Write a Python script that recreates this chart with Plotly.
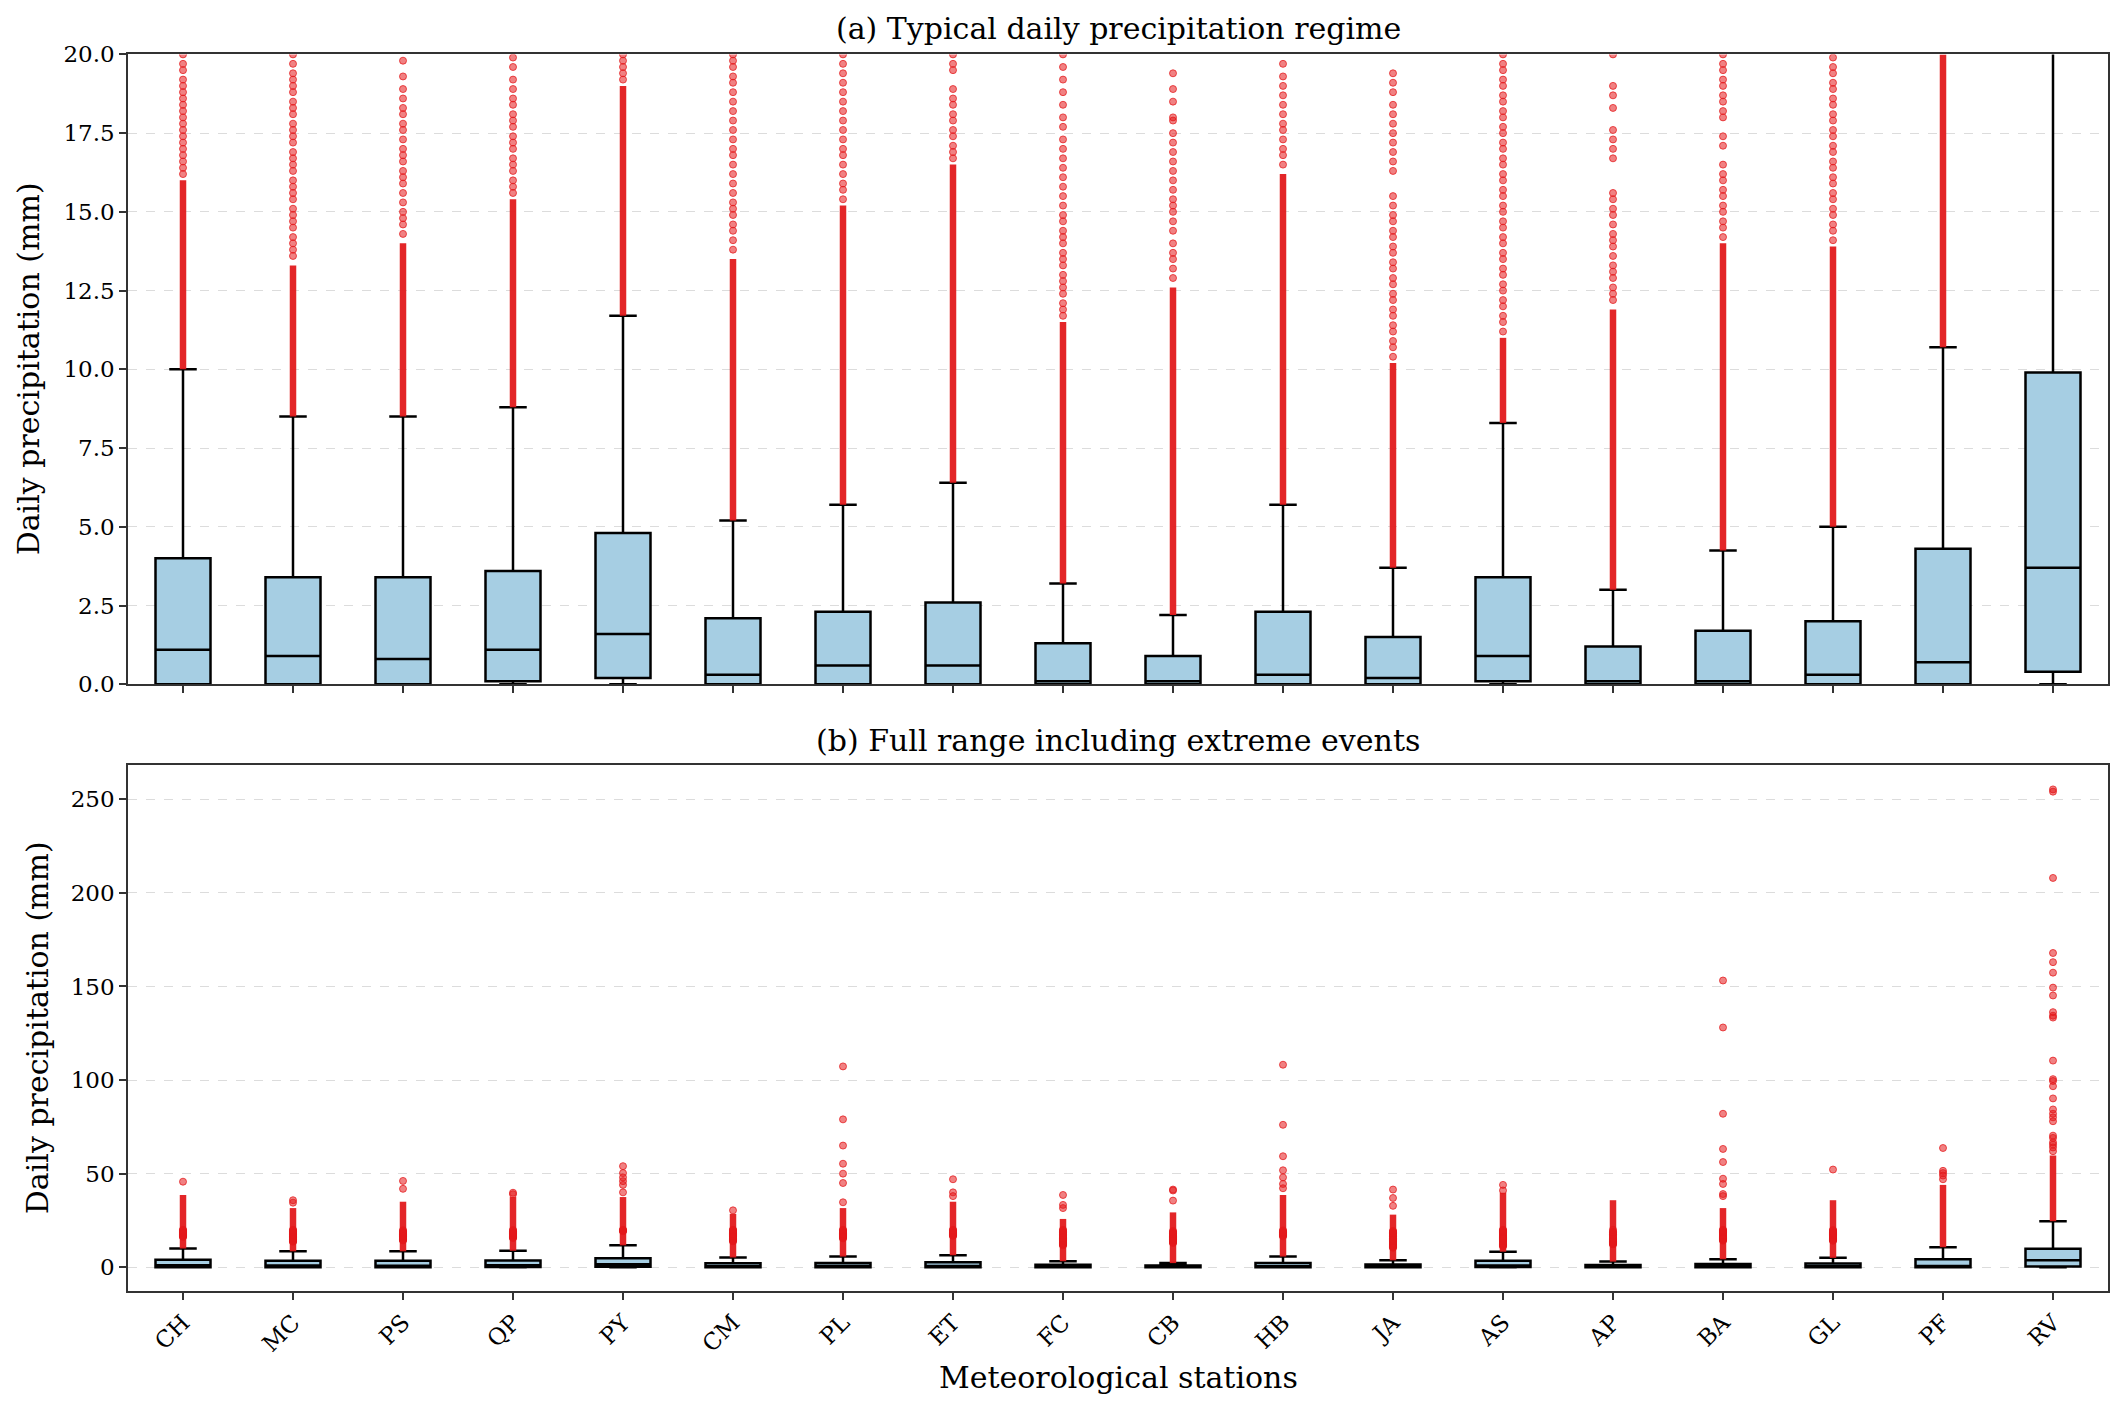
import plotly.graph_objects as go

# ---------------- data ----------------
stations = ["CH", "MC", "PS", "QP", "PY", "CM", "PL", "ET", "FC",
            "CB", "HB", "JA", "AS", "AP", "BA", "GL", "PF", "RV"]

q1 =            [0.0, 0.0, 0.0, 0.1, 0.2, 0.0, 0.0, 0.0, 0.0, 0.0, 0.0, 0.0, 0.1, 0.0, 0.0, 0.0, 0.0, 0.4]
median =        [1.1, 0.9, 0.8, 1.1, 1.6, 0.3, 0.6, 0.6, 0.1, 0.1, 0.3, 0.2, 0.9, 0.1, 0.1, 0.3, 0.7, 3.7]
q3 =            [4.0, 3.4, 3.4, 3.6, 4.8, 2.1, 2.3, 2.6, 1.3, 0.9, 2.3, 1.5, 3.4, 1.2, 1.7, 2.0, 4.3, 9.9]
lower_whisker = [0.0] * 18
upper_whisker = [10.0, 8.5, 8.5, 8.8, 11.7, 5.2, 5.7, 6.4, 3.2, 2.2, 5.7, 3.7, 8.3, 3.0, 4.25, 5.0, 10.7, 24.6]

# top of the unbroken run of outliers above the upper whisker,
# as seen in the 0-20 mm panel (fine) and in the full-range panel (coarse)
dense_top_fine =   [16.0, 13.3, 14.0, 15.4, 19.0, 13.5, 15.2, 16.5, 11.5, 12.6, 16.2, 10.2, 11.0, 11.9, 14.0, 13.9, 20.0, 24.6]
dense_top_coarse = [38.6, 31.6, 35.0, 37.5, 37.5, 28.5, 31.6, 35.0, 25.8, 29.3, 38.6, 28.1, 39.8, 35.8, 31.6, 35.8, 44.0, 59.7]

# individual outliers above the unbroken run
out_CH = [16.2, 16.4, 16.6, 16.8, 17.0, 17.2, 17.4, 17.6, 17.8, 18.0, 18.2, 18.4, 18.6, 18.8, 19.0, 19.2,
          19.5, 19.7, 20.0, 45.7]
out_MC = [13.6, 13.8, 14.0, 14.2, 14.5, 14.7, 14.9, 15.1, 15.4, 15.6, 15.8, 16.0, 16.3, 16.5, 16.7, 16.9,
          17.2, 17.4, 17.6, 17.8, 18.1, 18.3, 18.5, 18.8, 19.0, 19.2, 19.4, 19.7, 20.0, 34.5, 35.8]
out_PS = [14.3, 14.6, 14.8, 15.0, 15.3, 15.6, 15.9, 16.1, 16.3, 16.6, 16.8, 17.0, 17.3, 17.6, 17.8, 18.1,
          18.3, 18.6, 18.9, 19.3, 19.8, 41.9, 46.1]
out_QP = [15.6, 15.8, 16.0, 16.3, 16.5, 16.7, 17.0, 17.2, 17.4, 17.7, 17.9, 18.1, 18.4, 18.6, 18.9, 19.2,
          19.6, 19.9, 39.0, 39.8]
out_PY = [19.2, 19.4, 19.6, 19.8, 20.0, 40.0, 44.0, 46.0, 48.0, 50.3, 54.0]
out_CM = [13.8, 14.1, 14.4, 14.6, 14.9, 15.1, 15.3, 15.6, 15.9, 16.2, 16.5, 16.8, 17.0, 17.3, 17.6, 17.9,
          18.2, 18.5, 18.8, 19.1, 19.3, 19.6, 19.8, 20.0, 30.4]
out_PL = [15.4, 15.7, 15.9, 16.2, 16.5, 16.8, 17.0, 17.3, 17.6, 17.9, 18.2, 18.5, 18.8, 19.1, 19.4, 19.7,
          20.0, 34.7, 45.0, 50.0, 55.3, 65.0, 79.0, 107.3]
out_ET = [16.7, 16.9, 17.1, 17.4, 17.6, 17.9, 18.1, 18.4, 18.6, 18.9, 19.5, 19.7, 20.0, 38.0, 40.0, 47.0]
out_FC = [11.7, 11.9, 12.1, 12.4, 12.6, 12.8, 13.0, 13.3, 13.5, 13.7, 14.0, 14.2, 14.4, 14.7, 14.9, 15.2,
          15.5, 15.8, 16.1, 16.4, 16.7, 17.0, 17.3, 17.7, 18.0, 18.4, 18.8, 19.2, 19.6, 20.0, 31.6, 33.3, 38.6]
out_CB = [12.9, 13.2, 13.5, 13.7, 14.0, 14.4, 14.7, 15.0, 15.2, 15.4, 15.7, 16.0, 16.3, 16.6, 16.9, 17.2,
          17.5, 17.9, 18.0, 18.5, 18.9, 19.4, 35.6, 41.0, 41.5]
out_HB = [16.5, 16.8, 17.0, 17.3, 17.6, 17.8, 18.1, 18.4, 18.7, 19.0, 19.3, 19.7,
          42.2, 44.5, 48.0, 51.8, 59.3, 76.1, 108.2]
out_JA = [10.4, 10.7, 10.9, 11.2, 11.4, 11.7, 11.9, 12.2, 12.4, 12.7, 12.9, 13.2, 13.4, 13.7, 13.9, 14.2,
          14.4, 14.7, 14.9, 15.2, 15.5, 16.3, 16.6, 16.9, 17.2, 17.5, 17.8, 18.1, 18.4, 18.8, 19.1, 19.4,
          32.8, 37.0, 41.5]
out_AS = [11.2, 11.5, 11.7, 12.0, 12.2, 12.5, 12.7, 13.0, 13.2, 13.5, 13.7, 14.0, 14.2, 14.5, 14.7, 15.0,
          15.2, 15.5, 15.7, 16.0, 16.2, 16.5, 16.7, 17.0, 17.2, 17.5, 17.7, 18.0, 18.2, 18.5, 18.7, 19.0,
          19.2, 19.5, 19.7, 20.0, 41.0, 44.0]
out_AP = [12.2, 12.4, 12.6, 12.9, 13.1, 13.3, 13.6, 13.9, 14.1, 14.3, 14.6, 14.9, 15.1, 15.4, 15.6, 16.7,
          17.0, 17.3, 17.6, 18.3, 18.7, 19.0, 20.0]
out_BA = [14.2, 14.5, 14.7, 15.0, 15.2, 15.5, 15.7, 16.0, 16.2, 16.5, 17.1, 17.4, 18.0, 18.2, 18.5, 18.7,
          19.0, 19.2, 19.5, 19.7, 20.0, 38.0, 39.1, 44.5, 47.3, 56.2, 63.2, 82.0, 128.1, 153.2]
out_GL = [14.1, 14.4, 14.6, 14.9, 15.1, 15.4, 15.6, 15.9, 16.1, 16.4, 16.6, 16.9, 17.1, 17.4, 17.6, 17.9,
          18.1, 18.4, 18.6, 18.9, 19.1, 19.4, 19.6, 19.9, 52.2]
out_PF = [47.0, 49.0, 50.3, 51.5, 63.7]
out_RV = [62.0, 64.0, 65.5, 66.7, 69.1, 70.3, 78.0, 80.1, 82.0, 84.3, 90.2, 96.7, 99.5, 100.5, 110.4,
          133.4, 134.4, 136.3, 145.2, 149.4, 157.4, 163.0, 167.9, 208.0, 254.1, 255.3]

outliers = [out_CH, out_MC, out_PS, out_QP, out_PY, out_CM, out_PL, out_ET, out_FC,
            out_CB, out_HB, out_JA, out_AS, out_AP, out_BA, out_GL, out_PF, out_RV]

top_ticks = [0.0, 2.5, 5.0, 7.5, 10.0, 12.5, 15.0, 17.5, 20.0]
bottom_ticks = [0, 50, 100, 150, 200, 250]

# ---------------- styling / layout ----------------
W, H = 2123, 1408
FONT = "DejaVu Serif"
BOX_FILL = "#A6CEE3"
RED_SOLID = "rgba(226,26,28,0.95)"
RED_DOT = "rgba(228,26,28,0.55)"
RED_EDGE = "rgba(228,26,28,0.75)"


def py(px):
    """vertical pixel position (from top) -> paper fraction, with a small
    empirical correction for how the page is captured"""
    y = (px - 11.6) / 0.9817
    return 1 - y / H


x_left, x_right = 128 / W, 2108 / W
top_dom = [py(683), py(53)]
bot_dom = [py(1290), py(764)]

fig = go.Figure()

panels = [("x", "y", dense_top_fine), ("x2", "y2", dense_top_coarse)]
for xa, ya, dense_top in panels:
    # unbroken run of outliers
    sx, sy = [], []
    for s, lo, hi in zip(stations, upper_whisker, dense_top):
        if hi > lo:
            sx += [s, s, None]
            sy += [lo, hi, None]
    fig.add_trace(go.Scatter(x=sx, y=sy, mode="lines", xaxis=xa, yaxis=ya,
                             line=dict(color=RED_SOLID, width=6.5),
                             hoverinfo="skip", showlegend=False))
    # individual outliers
    ox, oy = [], []
    for s, vals in zip(stations, outliers):
        ox += [s] * len(vals)
        oy += vals
    fig.add_trace(go.Scatter(x=ox, y=oy, mode="markers", xaxis=xa, yaxis=ya,
                             marker=dict(size=7, color=RED_DOT,
                                         line=dict(color=RED_EDGE, width=1)),
                             showlegend=False))
    # boxes
    fig.add_trace(go.Box(x=stations, q1=q1, median=median, q3=q3,
                         lowerfence=lower_whisker, upperfence=upper_whisker,
                         xaxis=xa, yaxis=ya, boxpoints=False,
                         fillcolor=BOX_FILL, line=dict(color="black", width=2.5),
                         whiskerwidth=0.5, width=0.5, showlegend=False))

axis_common = dict(showline=True, mirror=True, linecolor="#333333", linewidth=1.6,
                   ticks="outside", ticklen=7, tickwidth=1.5, tickcolor="#333333",
                   tickfont=dict(family=FONT, size=23, color="black"), zeroline=False)

xcommon = dict(axis_common, type="category", categoryorder="array", categoryarray=stations,
               range=[-0.5, len(stations) - 0.5], showgrid=False)

fig.update_layout(
    width=W, height=H, autosize=False,
    margin=dict(l=0, r=0, t=0, b=0),
    paper_bgcolor="white", plot_bgcolor="white",
    showlegend=False,
    xaxis=dict(xcommon, domain=[x_left, x_right], anchor="y", showticklabels=False),
    yaxis=dict(axis_common, domain=top_dom, anchor="x", range=[0, 20],
               tickmode="array", tickvals=top_ticks, tickformat=".1f",
               showgrid=True, gridcolor="#dcdcdc", gridwidth=1.2, griddash="dash"),
    xaxis2=dict(xcommon, domain=[x_left, x_right], anchor="y2", tickangle=-45),
    yaxis2=dict(axis_common, domain=bot_dom, anchor="x2", range=[-12.8, 268.2],
                tickmode="array", tickvals=bottom_ticks,
                showgrid=True, gridcolor="#dcdcdc", gridwidth=1.2, griddash="dash"),
)

title_font = dict(family=FONT, size=30, color="black")
xc = (x_left + x_right) / 2
fig.add_annotation(text="(a) Typical daily precipitation regime", x=xc, y=py(27),
                   xref="paper", yref="paper", showarrow=False, font=title_font,
                   xanchor="center", yanchor="middle")
fig.add_annotation(text="(b) Full range including extreme events", x=xc, y=py(739),
                   xref="paper", yref="paper", showarrow=False, font=title_font,
                   xanchor="center", yanchor="middle")
fig.add_annotation(text="Meteorological stations", x=xc, y=py(1376),
                   xref="paper", yref="paper", showarrow=False, font=title_font,
                   xanchor="center", yanchor="middle")
fig.add_annotation(text="Daily precipitation (mm)", x=28 / W, y=py(368),
                   xref="paper", yref="paper", showarrow=False, font=title_font,
                   textangle=-90, xanchor="center", yanchor="middle")
fig.add_annotation(text="Daily precipitation (mm)", x=37 / W, y=py(1027),
                   xref="paper", yref="paper", showarrow=False, font=title_font,
                   textangle=-90, xanchor="center", yanchor="middle")

fig.write_html("out.html")
